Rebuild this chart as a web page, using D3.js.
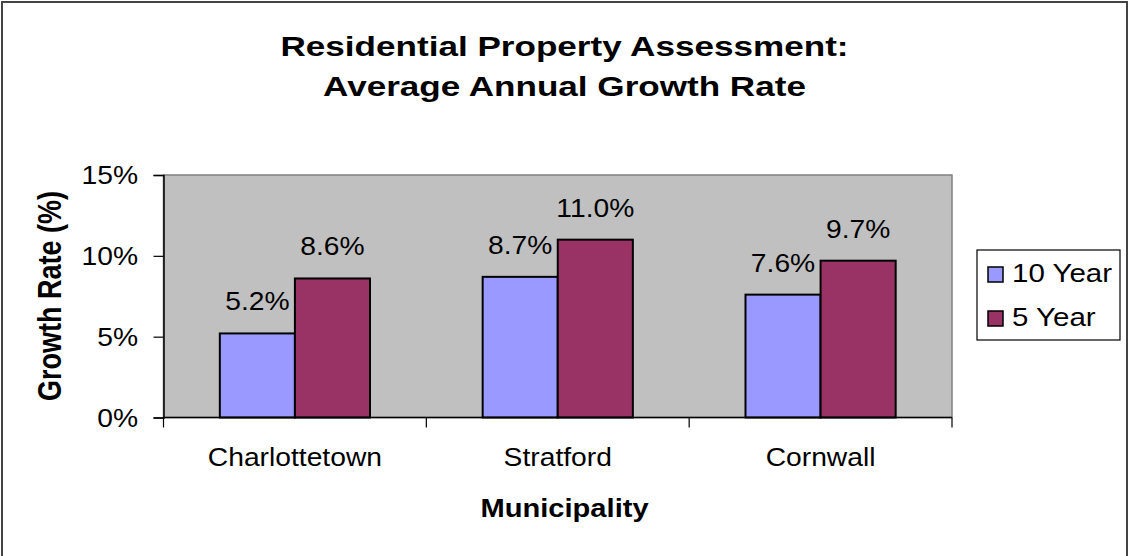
<!DOCTYPE html>
<html>
<head>
<meta charset="utf-8">
<script src="https://cdn.jsdelivr.net/npm/d3@7"></script>
<style>
  html, body { margin: 0; padding: 0; background: #fff; }
  svg text { font-family: "Liberation Sans", Arial, sans-serif; fill: #000; }
</style>
</head>
<body>
<svg id="chart" width="1129" height="556"></svg>
<script>
// data
const municipalities = ["Charlottetown", "Stratford", "Cornwall"];
const seriesNames = ["10 Year", "5 Year"];
const tenYear = [5.2, 8.7, 7.6];
const fiveYear = [8.6, 11.0, 9.7];
const yTicks = [0, 5, 10, 15];
const titleLines = ["Residential Property Assessment:", "Average Annual Growth Rate"];

const seriesColor = { "10 Year": "#9999ff", "5 Year": "#993366" };

// the original was stretched sideways a bit, so text gets a horizontal scale
const SX = 1.13;
const SX_BOLD = 1.3;

const svg = d3.select("#chart");
const plot = { left: 163.5, right: 952, top: 175, bottom: 417.5 };

// helper: text that is stretched horizontally like the reference
function stext(parent, x, y, str, o) {
  const g = parent.append("g")
    .attr("transform", `translate(${x},${y}) scale(${o.sx || SX},1)` + (o.rotate ? ` rotate(${o.rotate})` : ""));
  g.append("text")
    .attr("text-anchor", o.anchor || "middle")
    .style("font-size", o.size + "px")
    .style("font-weight", o.weight || 400)
    .text(str);
  return g;
}

// outer chart border
svg.append("rect")
  .attr("x", 2).attr("y", 2).attr("width", 1125).attr("height", 600)
  .attr("fill", "#fff").attr("stroke", "#444").attr("stroke-width", 2);

// title
titleLines.forEach((t, i) => {
  stext(svg, 564.5, 56 + i * 40, t, { size: 27, weight: 700, sx: SX_BOLD });
});

const x = d3.scaleBand()
  .domain(municipalities)
  .range([plot.left, plot.right])
  .paddingInner(0.4286)
  .paddingOuter(0.2143);

const xs = d3.scaleBand()
  .domain(seriesNames)
  .range([0, x.bandwidth()]);

const y = d3.scaleLinear()
  .domain([0, 15])
  .range([plot.bottom, plot.top]);

// plot area
svg.append("rect")
  .attr("x", plot.left).attr("y", plot.top)
  .attr("width", plot.right - plot.left).attr("height", plot.bottom - plot.top)
  .attr("fill", "#c0c0c0").attr("stroke", "#808080").attr("stroke-width", 1.5);

// bars
const rows = municipalities.map((m, i) => ({ m, vals: [tenYear[i], fiveYear[i]] }));
const groups = svg.append("g").selectAll("g")
  .data(rows)
  .join("g")
    .attr("transform", d => `translate(${x(d.m)},0)`);

groups.selectAll("rect")
  .data(d => d.vals.map((v, j) => ({ s: seriesNames[j], v })))
  .join("rect")
    .attr("x", d => xs(d.s))
    .attr("y", d => y(d.v))
    .attr("width", xs.bandwidth())
    .attr("height", d => y(0) - y(d.v))
    .attr("fill", d => seriesColor[d.s])
    .attr("stroke", "#000")
    .attr("stroke-width", 2);

// value labels above bars
rows.forEach(r => {
  r.vals.forEach((v, j) => {
    const cx = x(r.m) + xs(seriesNames[j]) + xs.bandwidth() / 2;
    stext(svg, cx, y(v) - 23, v.toFixed(1) + "%", { size: 25 });
  });
});

// y axis
const yAxis = svg.append("g")
  .attr("transform", `translate(${plot.left},0)`)
  .call(d3.axisLeft(y).tickValues(yTicks).tickSize(10).tickFormat(""));
yAxis.select(".domain").attr("stroke", "#000").attr("stroke-width", 1.5);
yAxis.selectAll(".tick line").attr("stroke", "#000").attr("stroke-width", 1.2);
yTicks.forEach(t => {
  stext(svg, 138, y(t) + 9, t + "%", { size: 25, anchor: "end" });
});

// x axis: ticks sit on category boundaries
const xAxis = svg.append("g")
  .attr("transform", `translate(0,${plot.bottom})`);
xAxis.append("line")
  .attr("x1", plot.left).attr("x2", plot.right)
  .attr("stroke", "#000").attr("stroke-width", 1.5);
const step = x.step();
d3.range(municipalities.length + 1).forEach(i => {
  const bx = plot.left + i * step;
  xAxis.append("line")
    .attr("x1", bx).attr("x2", bx).attr("y1", 0).attr("y2", 10)
    .attr("stroke", "#000").attr("stroke-width", 1.2);
});
municipalities.forEach(m => {
  stext(svg, x(m) + x.bandwidth() / 2, 466, m, { size: 25 });
});

// axis titles
stext(svg, 564.5, 517, "Municipality", { size: 26, weight: 700, sx: 1.12 });
stext(svg, 61, 296, "Growth Rate (%)", { size: 27, weight: 700, sx: 1.22, rotate: -90 });

// legend
const legend = svg.append("g");
legend.append("rect")
  .attr("x", 977).attr("y", 250).attr("width", 143).attr("height", 90)
  .attr("fill", "#fff").attr("stroke", "#000").attr("stroke-width", 1.2);
seriesNames.forEach((s, i) => {
  const ly = 282 + i * 44;
  legend.append("rect")
    .attr("x", 988).attr("y", ly - 15).attr("width", 15).attr("height", 15)
    .attr("fill", seriesColor[s]).attr("stroke", "#000").attr("stroke-width", 1.5);
  stext(legend, 1012, ly, s, { size: 25, anchor: "start", sx: 1.18 });
});
</script>
</body>
</html>
